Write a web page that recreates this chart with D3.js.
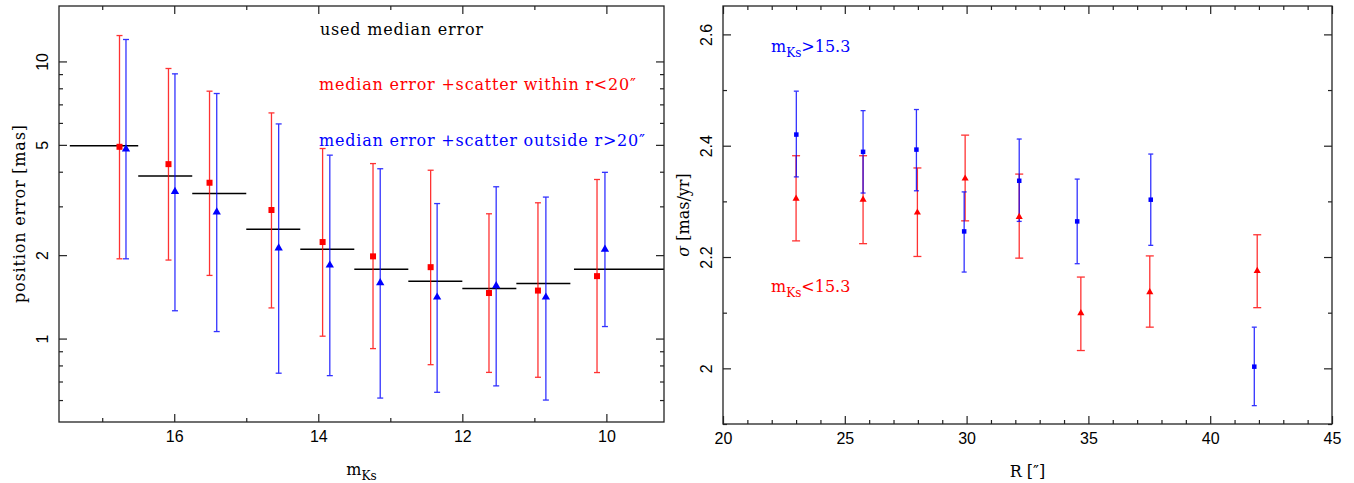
<!DOCTYPE html>
<html>
<head>
<meta charset="utf-8">
<script src="https://cdn.jsdelivr.net/npm/d3@7"></script>
<style>
body { margin: 0; background: #fff; }
svg text { font-family: "DejaVu Serif", serif; }
.tick text { font-family: "Liberation Sans", sans-serif; font-size: 16px; fill: #000; }
</style>
</head>
<body>
<svg id="chart" width="1354" height="483"></svg>
<script>
// ---- left panel data: position error vs magnitude ----
const binStart = [17.45, 16.5, 15.75, 15, 14.25, 13.5, 12.75, 12, 11.25, 10.45];
const binEnd   = [16.5, 15.75, 15, 14.25, 13.5, 12.75, 12, 11.25, 10.5, 9.2];
const usedErr  = [4.96, 3.86, 3.34, 2.48, 2.10, 1.78, 1.61, 1.515, 1.58, 1.78];

const redMag = [16.76, 16.08, 15.51, 14.65, 13.94, 13.24, 12.44, 11.63, 10.95, 10.13];
const redErr = [4.92, 4.26, 3.65, 2.91, 2.23, 1.98, 1.81, 1.46, 1.49, 1.68];
const redLo  = [1.94, 1.92, 1.69, 1.29, 1.02, 0.92, 0.805, 0.755, 0.725, 0.754];
const redHi  = [12.4, 9.43, 7.81, 6.52, 4.85, 4.28, 4.05, 2.82, 3.09, 3.75];

const blueMag = [16.67, 15.99, 15.41, 14.55, 13.84, 13.14, 12.35, 11.53, 10.84, 10.02];
const blueErr = [4.83, 3.39, 2.86, 2.12, 1.84, 1.59, 1.41, 1.55, 1.41, 2.10];
const blueLo  = [1.94, 1.26, 1.06, 0.75, 0.735, 0.61, 0.64, 0.675, 0.60, 1.105];
const blueHi  = [12.0, 9.02, 7.66, 5.95, 4.59, 4.10, 3.07, 3.53, 3.24, 3.98];

const magMajor = [16, 14, 12, 10];
const magMinor = [17, 15, 13, 11];
const errMajor = [1, 2, 5, 10];
const errMinor = [0.6, 0.7, 0.8, 0.9, 3, 4, 6, 7, 8, 9];

// ---- right panel data: dispersion vs radius ----
const faintR   = [23.01, 25.75, 27.94, 29.9, 32.16, 34.54, 37.56, 41.81];
const faintSig = [2.420, 2.389, 2.393, 2.246, 2.337, 2.264, 2.303, 2.003];
const faintLo  = [2.344, 2.315, 2.319, 2.173, 2.264, 2.188, 2.221, 1.933];
const faintHi  = [2.498, 2.463, 2.465, 2.317, 2.412, 2.340, 2.385, 2.074];

const brightR   = [23.0, 25.75, 27.98, 29.94, 32.16, 34.69, 37.52, 41.93];
const brightSig = [2.305, 2.303, 2.280, 2.341, 2.272, 2.099, 2.137, 2.175];
const brightLo  = [2.229, 2.224, 2.201, 2.265, 2.198, 2.032, 2.074, 2.109];
const brightHi  = [2.382, 2.382, 2.360, 2.419, 2.349, 2.164, 2.202, 2.240];

const rMajor = [20, 25, 30, 35, 40, 45];
const rMinor = d3.range(21, 45).filter(d => d % 5 !== 0);
const sigMajor = [2, 2.2, 2.4, 2.6];
const sigMinor = [1.9, 2.1, 2.3, 2.5];

const RED = "#ff0000", BLUE = "#0000ff";
const svg = d3.select("#chart");

// draws the frame with inward ticks on all four sides
function drawFrame(box, x, y, xMaj, xMin, yMaj, yMin) {
  const g = svg.append("g").attr("color", "#222");
  const noDomain = s => s.select(".domain").remove();
  g.append("g").attr("transform", `translate(0,${box.bottom})`)
    .call(d3.axisBottom(x).tickValues(xMaj).tickSize(-8).tickPadding(9).tickFormat(d => d)).call(noDomain);
  g.append("g").attr("transform", `translate(0,${box.bottom})`)
    .call(d3.axisBottom(x).tickValues(xMin).tickSize(-4).tickFormat("")).call(noDomain);
  g.append("g").attr("transform", `translate(0,${box.top})`)
    .call(d3.axisTop(x).tickValues(xMaj).tickSize(-8).tickFormat("")).call(noDomain);
  g.append("g").attr("transform", `translate(0,${box.top})`)
    .call(d3.axisTop(x).tickValues(xMin).tickSize(-4).tickFormat("")).call(noDomain);
  const yl = g.append("g").attr("transform", `translate(${box.left},0)`)
    .call(d3.axisLeft(y).tickValues(yMaj).tickSize(-8).tickFormat(d => String(d))).call(noDomain);
  yl.selectAll(".tick text")
    .attr("transform", "rotate(-90)").attr("x", 0).attr("y", -11).attr("dy", 0)
    .attr("text-anchor", "middle");
  g.append("g").attr("transform", `translate(${box.left},0)`)
    .call(d3.axisLeft(y).tickValues(yMin).tickSize(-4).tickFormat("")).call(noDomain);
  g.append("g").attr("transform", `translate(${box.right},0)`)
    .call(d3.axisRight(y).tickValues(yMaj).tickSize(-8).tickFormat("")).call(noDomain);
  g.append("g").attr("transform", `translate(${box.right},0)`)
    .call(d3.axisRight(y).tickValues(yMin).tickSize(-4).tickFormat("")).call(noDomain);
  g.selectAll(".tick line").attr("stroke-width", 1.2);
  svg.append("rect")
    .attr("x", box.left).attr("y", box.top)
    .attr("width", box.right - box.left).attr("height", box.bottom - box.top)
    .attr("fill", "none").attr("stroke", "#222").attr("stroke-width", 1.3);
}

function errorBars(xs, lo, hi, x, y, color, cap) {
  const g = svg.append("g").attr("stroke", color).attr("stroke-width", 1.3).attr("opacity", 0.8);
  xs.forEach((v, i) => {
    const px = x(v);
    g.append("line").attr("x1", px).attr("x2", px).attr("y1", y(lo[i])).attr("y2", y(hi[i]));
    [lo[i], hi[i]].forEach(e => {
      g.append("line").attr("x1", px - cap).attr("x2", px + cap).attr("y1", y(e)).attr("y2", y(e));
    });
  });
}

function squares(xs, vals, x, y, color, s) {
  svg.append("g").selectAll("rect").data(xs).join("rect")
    .attr("x", (d, i) => x(d) - s / 2).attr("y", (d, i) => y(vals[i]) - s / 2)
    .attr("width", s).attr("height", s).attr("fill", color);
}

function triangles(xs, vals, x, y, color, size) {
  const sym = d3.symbol(d3.symbolTriangle, size);
  svg.append("g").selectAll("path").data(xs).join("path")
    .attr("d", sym)
    .attr("transform", (d, i) => `translate(${x(d)},${y(vals[i])})`)
    .attr("fill", color);
}

// ================= LEFT PANEL =================
const L = { left: 59, right: 664, top: 6, bottom: 422 };
const xL = d3.scaleLinear().domain([17.6, 9.2]).range([L.left, L.right]);
const yL = d3.scaleLog().domain([0.5, 15.85]).range([L.bottom, L.top]);

svg.append("g").attr("stroke", "#000").attr("stroke-width", 1.5)
  .selectAll("line").data(usedErr).join("line")
  .attr("x1", (d, i) => xL(binStart[i])).attr("x2", (d, i) => xL(binEnd[i]))
  .attr("y1", d => yL(d)).attr("y2", d => yL(d));

errorBars(redMag, redLo, redHi, xL, yL, RED, 3);
errorBars(blueMag, blueLo, blueHi, xL, yL, BLUE, 3);
squares(redMag, redErr, xL, yL, RED, 6);
triangles(blueMag, blueErr, xL, yL, BLUE, 30);

drawFrame(L, xL, yL, magMajor, magMinor, errMajor, errMinor);

svg.append("text").attr("x", 320).attr("y", 35).attr("font-size", 16)
  .attr("textLength", 163).attr("lengthAdjust", "spacing").attr("fill", "#000")
  .text("used median error");
svg.append("text").attr("x", 319).attr("y", 90).attr("font-size", 16)
  .attr("textLength", 317).attr("lengthAdjust", "spacing").attr("fill", RED)
  .text("median error +scatter within r<20\u2033");
svg.append("text").attr("x", 319).attr("y", 145.5).attr("font-size", 16)
  .attr("textLength", 326).attr("lengthAdjust", "spacing").attr("fill", BLUE)
  .text("median error +scatter outside r>20\u2033");

svg.append("text").attr("transform", `translate(25,${(L.top + L.bottom) / 2}) rotate(-90)`)
  .attr("text-anchor", "middle").attr("font-size", 16).attr("textLength", 178)
  .attr("lengthAdjust", "spacing").text("position error [mas]");

const mx = svg.append("text").attr("x", (L.left + L.right) / 2).attr("y", 475)
  .attr("text-anchor", "middle").attr("font-size", 16);
mx.append("tspan").text("m");
mx.append("tspan").attr("font-size", 12).attr("dy", 5).text("Ks");

// ================= RIGHT PANEL =================
const R = { left: 723, right: 1332, top: 6, bottom: 424 };
const xR = d3.scaleLinear().domain([20, 45]).range([R.left, R.right]);
const yR = d3.scaleLinear().domain([1.9, 2.651]).range([R.bottom, R.top]);

errorBars(brightR, brightLo, brightHi, xR, yR, RED, 4);
errorBars(faintR, faintLo, faintHi, xR, yR, BLUE, 2.5);
triangles(brightR, brightSig, xR, yR, RED, 22);
squares(faintR, faintSig, xR, yR, BLUE, 4.5);

drawFrame(R, xR, yR, rMajor, rMinor, sigMajor, sigMinor);

function magLabel(x, y, op, color) {
  const t = svg.append("text").attr("x", x).attr("y", y).attr("font-size", 16).attr("fill", color);
  t.append("tspan").text("m");
  t.append("tspan").attr("font-size", 12).attr("dy", 5).text("Ks");
  t.append("tspan").attr("dy", -5).text(op + "15.3");
}
magLabel(771, 52, ">", BLUE);
magLabel(771, 292, "<", RED);

const sl = svg.append("text").attr("transform", `translate(689,${(R.top + R.bottom) / 2}) rotate(-90)`)
  .attr("text-anchor", "middle").attr("font-size", 16);
sl.append("tspan").attr("font-style", "italic").text("\u03c3");
sl.append("tspan").text(" [mas/yr]");

svg.append("text").attr("x", (R.left + R.right) / 2).attr("y", 477)
  .attr("text-anchor", "middle").attr("font-size", 16).text("R [\u2033]");
</script>
</body>
</html>
